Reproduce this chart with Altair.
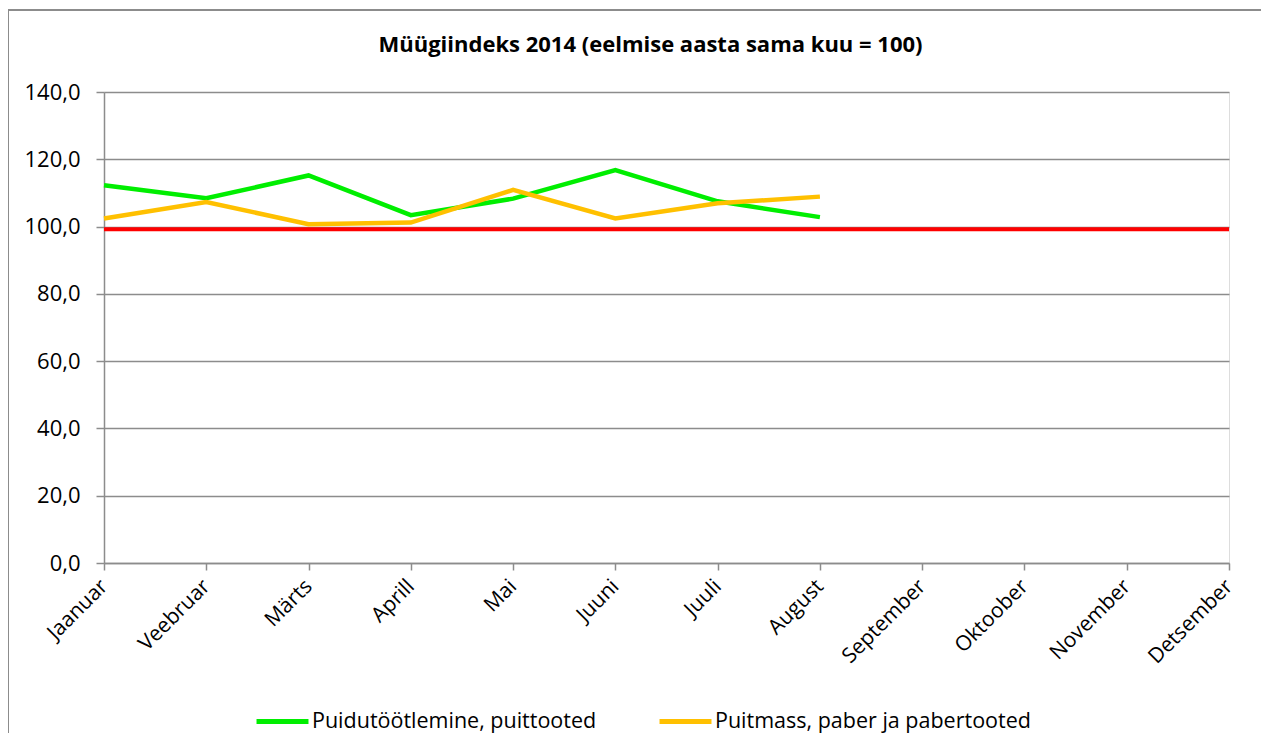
import altair as alt
import pandas as pd

months = ["Jaanuar", "Veebruar", "Märts", "Aprill", "Mai", "Juuni", "Juuli",
          "August", "September", "Oktoober", "November", "Detsember"]
series_names = ["Puidutöötlemine, puittooted", "Puitmass, paber ja pabertooted"]
green_vals = [112.3, 108.4, 115.2, 103.4, 108.3, 116.8, 107.5, 102.8]
orange_vals = [102.4, 107.3, 100.7, 101.2, 110.9, 102.4, 106.9, 108.9]
base_vals = [99.2] * 12

rows = []
for m, v in zip(months, green_vals):
    rows.append({"Kuu": m, "Väärtus": v, "Seeria": series_names[0]})
for m, v in zip(months, orange_vals):
    rows.append({"Kuu": m, "Väärtus": v, "Seeria": series_names[1]})
df = pd.DataFrame(rows)
base_df = pd.DataFrame({"Kuu": months, "Väärtus": base_vals})

FONT = "Open Sans"
W, H = 1125, 471
GRID = "#8c8c8c"

x_enc = alt.X("Kuu:N", sort=months,
              scale=alt.Scale(type="point", padding=0, domain=months),
              axis=alt.Axis(title=None, labelAngle=-45, labelAlign="right",
                            labelBaseline="middle", labelFontSize=21,
                            labelColor="black", labelFont=FONT, labelPadding=13,
                            tickColor=GRID, tickSize=7, domainColor=GRID,
                            domainWidth=1.5, tickWidth=1.5, grid=False))
y_scale = alt.Scale(domain=[0, 140])

base = alt.Chart(base_df).mark_line(color="#FF0000", strokeWidth=4).encode(
    x=x_enc,
    y=alt.Y("Väärtus:Q", scale=y_scale,
            axis=alt.Axis(title=None, values=[0, 20, 40, 60, 80, 100, 120, 140],
                          labelExpr="replace(format(datum.value, '.1f'), '.', ',')",
                          labelFontSize=22, labelColor="black", labelFont=FONT,
                          gridColor=GRID, gridWidth=1.5, tickColor=GRID,
                          tickSize=8, tickWidth=1.5, domainColor=GRID,
                          domainWidth=1.5, labelPadding=16)),
)

lines = alt.Chart(df).mark_line(strokeWidth=4.5).encode(
    x=alt.X("Kuu:N", sort=months),
    y=alt.Y("Väärtus:Q", scale=y_scale),
    color=alt.Color("Seeria:N", sort=series_names,
                    scale=alt.Scale(domain=series_names, range=["#00EE00", "#FFC000"]),
                    legend=alt.Legend(title=None, orient="none", direction="horizontal",
                                      legendX=150, legendY=601,
                                      symbolType="stroke", symbolStrokeWidth=5,
                                      symbolSize=2700, labelFontSize=21.5,
                                      labelFont=FONT, labelColor="black",
                                      labelOffset=1, columnPadding=52, labelLimit=500)),
)

frame = alt.Chart(base_df).mark_rect(fill=None, stroke=GRID, strokeWidth=1.5).encode(
    x=alt.value(-96), x2=alt.value(W + 37), y=alt.value(-82), y2=alt.value(H + 300)
)

chart = alt.layer(frame, base, lines).properties(
    width=W, height=H,
    title=alt.Title("Müügiindeks 2014 (eelmise aasta sama kuu = 100)",
                    fontSize=22, font=FONT, fontWeight="bold", color="black",
                    anchor="middle", offset=-48, dx=-16, frame="group"),
    autosize=alt.AutoSizeParams(type="none"),
    padding={"left": 96, "top": 84, "right": 32, "bottom": 170},
).configure_view(stroke=None).configure(background="white")

chart.save("out.html", embed_options={"renderer": "svg", "actions": False})
